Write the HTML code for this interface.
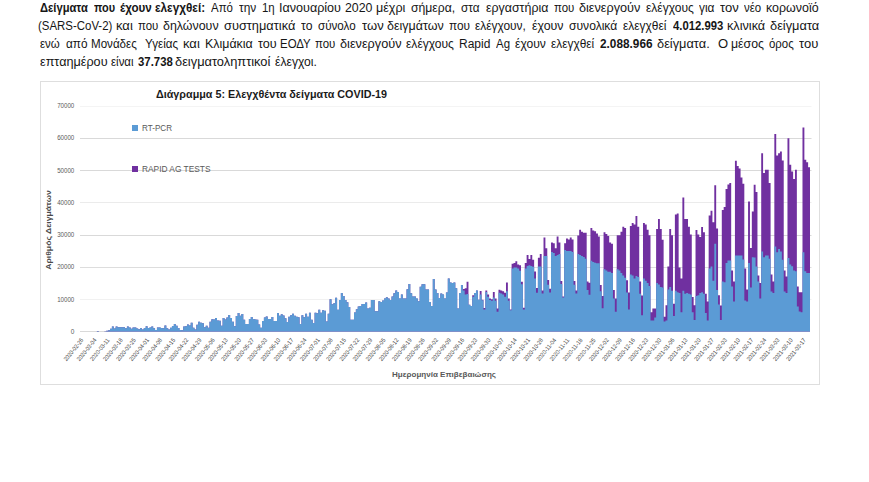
<!DOCTYPE html>
<html><head><meta charset="utf-8">
<style>
html,body{margin:0;padding:0;background:#fff;}
body{width:869px;height:482px;overflow:hidden;position:relative;font-family:"Liberation Sans",sans-serif;}
.w{position:absolute;font-size:12.3px;line-height:14px;color:#161616;white-space:nowrap;transform-origin:0 0;}
.w.b{font-weight:bold;}
</style></head><body>
<svg width="869" height="482" viewBox="0 0 869 482" style="position:absolute;left:0;top:0">
<rect x="40.5" y="81.5" width="779" height="303" fill="#fff" stroke="#dedede" stroke-width="1"/>
<line x1="80" y1="106.5" x2="811.5" y2="106.5" stroke="#f4f4f4" stroke-width="1"/><line x1="80" y1="138.5" x2="811.5" y2="138.5" stroke="#d9d9d9" stroke-width="1"/><line x1="80" y1="170.5" x2="811.5" y2="170.5" stroke="#d9d9d9" stroke-width="1"/><line x1="80" y1="202.5" x2="811.5" y2="202.5" stroke="#ebebeb" stroke-width="1"/><line x1="80" y1="235.5" x2="811.5" y2="235.5" stroke="#d9d9d9" stroke-width="1"/><line x1="80" y1="267.5" x2="811.5" y2="267.5" stroke="#dddddd" stroke-width="1"/><line x1="80" y1="299.5" x2="811.5" y2="299.5" stroke="#f1f1f1" stroke-width="1"/>
<line x1="80" y1="331.5" x2="810" y2="331.5" stroke="#d9d9d9" stroke-width="1"/>
<path d="M80.00 331.60 L80.00 331.60 L81.88 331.60 L81.88 331.60 L83.75 331.60 L83.75 331.60 L85.63 331.60 L85.63 331.60 L87.51 331.60 L87.51 331.60 L89.38 331.60 L89.38 331.60 L91.26 331.60 L91.26 331.60 L93.14 331.60 L93.14 331.60 L95.01 331.60 L95.01 331.60 L96.89 331.60 L96.89 331.00 L98.77 331.00 L98.77 331.60 L100.64 331.60 L100.64 331.60 L102.52 331.60 L102.52 331.60 L104.40 331.60 L104.40 331.20 L106.27 331.20 L106.27 330.70 L108.15 330.70 L108.15 330.20 L110.03 330.20 L110.03 328.80 L111.90 328.80 L111.90 326.60 L113.78 326.60 L113.78 328.40 L115.66 328.40 L115.66 326.40 L117.53 326.40 L117.53 327.30 L119.41 327.30 L119.41 327.30 L121.29 327.30 L121.29 327.30 L123.16 327.30 L123.16 327.30 L125.04 327.30 L125.04 328.20 L126.92 328.20 L126.92 326.40 L128.79 326.40 L128.79 327.60 L130.67 327.60 L130.67 328.70 L132.54 328.70 L132.54 327.60 L134.42 327.60 L134.42 327.60 L136.30 327.60 L136.30 328.40 L138.17 328.40 L138.17 329.30 L140.05 329.30 L140.05 328.30 L141.93 328.30 L141.93 329.50 L143.80 329.50 L143.80 328.00 L145.68 328.00 L145.68 326.30 L147.56 326.30 L147.56 328.00 L149.43 328.00 L149.43 327.40 L151.31 327.40 L151.31 326.60 L153.19 326.60 L153.19 328.30 L155.06 328.30 L155.06 330.00 L156.94 330.00 L156.94 327.40 L158.82 327.40 L158.82 327.40 L160.69 327.40 L160.69 328.00 L162.57 328.00 L162.57 328.30 L164.45 328.30 L164.45 325.40 L166.32 325.40 L166.32 328.30 L168.20 328.30 L168.20 329.50 L170.08 329.50 L170.08 327.70 L171.95 327.70 L171.95 326.00 L173.83 326.00 L173.83 323.90 L175.71 323.90 L175.71 325.70 L177.58 325.70 L177.58 328.00 L179.46 328.00 L179.46 330.00 L181.34 330.00 L181.34 330.30 L183.21 330.30 L183.21 326.60 L185.09 326.60 L185.09 326.30 L186.97 326.30 L186.97 324.60 L188.84 324.60 L188.84 325.50 L190.72 325.50 L190.72 322.80 L192.60 322.80 L192.60 327.80 L194.47 327.80 L194.47 329.50 L196.35 329.50 L196.35 324.80 L198.23 324.80 L198.23 321.80 L200.10 321.80 L200.10 322.80 L201.98 322.80 L201.98 323.20 L203.86 323.20 L203.86 327.20 L205.73 327.20 L205.73 325.80 L207.61 325.80 L207.61 327.80 L209.49 327.80 L209.49 321.80 L211.36 321.80 L211.36 319.20 L213.24 319.20 L213.24 319.50 L215.12 319.50 L215.12 317.90 L216.99 317.90 L216.99 320.50 L218.87 320.50 L218.87 320.80 L220.75 320.80 L220.75 325.80 L222.62 325.80 L222.62 317.90 L224.50 317.90 L224.50 319.50 L226.38 319.50 L226.38 317.50 L228.25 317.50 L228.25 314.90 L230.13 314.90 L230.13 317.90 L232.01 317.90 L232.01 321.80 L233.88 321.80 L233.88 326.20 L235.76 326.20 L235.76 315.90 L237.63 315.90 L237.63 313.00 L239.51 313.00 L239.51 315.80 L241.39 315.80 L241.39 313.90 L243.26 313.90 L243.26 319.80 L245.14 319.80 L245.14 324.10 L247.02 324.10 L247.02 324.10 L248.89 324.10 L248.89 319.00 L250.77 319.00 L250.77 317.00 L252.65 317.00 L252.65 319.00 L254.52 319.00 L254.52 319.40 L256.40 319.40 L256.40 319.80 L258.28 319.80 L258.28 324.50 L260.15 324.50 L260.15 327.70 L262.03 327.70 L262.03 321.00 L263.91 321.00 L263.91 317.40 L265.78 317.40 L265.78 316.60 L267.66 316.60 L267.66 319.00 L269.54 319.00 L269.54 319.00 L271.41 319.00 L271.41 317.00 L273.29 317.00 L273.29 321.00 L275.17 321.00 L275.17 321.00 L277.04 321.00 L277.04 313.10 L278.92 313.10 L278.92 315.80 L280.80 315.80 L280.80 314.20 L282.67 314.20 L282.67 315.40 L284.55 315.40 L284.55 318.20 L286.43 318.20 L286.43 322.10 L288.30 322.10 L288.30 316.70 L290.18 316.70 L290.18 315.20 L292.06 315.20 L292.06 313.70 L293.93 313.70 L293.93 315.70 L295.81 315.70 L295.81 316.70 L297.69 316.70 L297.69 317.20 L299.56 317.20 L299.56 324.10 L301.44 324.10 L301.44 315.20 L303.32 315.20 L303.32 317.20 L305.19 317.20 L305.19 313.70 L307.07 313.70 L307.07 316.70 L308.95 316.70 L308.95 312.70 L310.82 312.70 L310.82 319.70 L312.70 319.70 L312.70 323.10 L314.58 323.10 L314.58 312.70 L316.45 312.70 L316.45 313.20 L318.33 313.20 L318.33 309.70 L320.21 309.70 L320.21 312.70 L322.08 312.70 L322.08 310.20 L323.96 310.20 L323.96 310.70 L325.84 310.70 L325.84 321.60 L327.71 321.60 L327.71 313.70 L329.59 313.70 L329.59 299.20 L331.47 299.20 L331.47 304.20 L333.34 304.20 L333.34 303.20 L335.22 303.20 L335.22 297.70 L337.10 297.70 L337.10 309.70 L338.97 309.70 L338.97 300.00 L340.85 300.00 L340.85 293.00 L342.72 293.00 L342.72 295.90 L344.60 295.90 L344.60 300.00 L346.48 300.00 L346.48 302.30 L348.35 302.30 L348.35 307.00 L350.23 307.00 L350.23 319.80 L352.11 319.80 L352.11 319.80 L353.98 319.80 L353.98 312.50 L355.86 312.50 L355.86 309.20 L357.74 309.20 L357.74 306.50 L359.61 306.50 L359.61 305.90 L361.49 305.90 L361.49 303.90 L363.37 303.90 L363.37 303.90 L365.24 303.90 L365.24 302.60 L367.12 302.60 L367.12 308.50 L369.00 308.50 L369.00 307.80 L370.87 307.80 L370.87 299.90 L372.75 299.90 L372.75 299.90 L374.63 299.90 L374.63 311.20 L376.50 311.20 L376.50 311.20 L378.38 311.20 L378.38 301.20 L380.26 301.20 L380.26 301.90 L382.13 301.90 L382.13 300.60 L384.01 300.60 L384.01 298.60 L385.89 298.60 L385.89 297.20 L387.76 297.20 L387.76 298.60 L389.64 298.60 L389.64 299.90 L391.52 299.90 L391.52 296.60 L393.39 296.60 L393.39 293.20 L395.27 293.20 L395.27 290.60 L397.15 290.60 L397.15 291.90 L399.02 291.90 L399.02 298.60 L400.90 298.60 L400.90 294.60 L402.78 294.60 L402.78 298.60 L404.65 298.60 L404.65 298.60 L406.53 298.60 L406.53 289.30 L408.41 289.30 L408.41 283.90 L410.28 283.90 L410.28 293.20 L412.16 293.20 L412.16 296.60 L414.04 296.60 L414.04 296.60 L415.91 296.60 L415.91 298.60 L417.79 298.60 L417.79 301.20 L419.67 301.20 L419.67 286.80 L421.54 286.80 L421.54 284.20 L423.42 284.20 L423.42 284.20 L425.30 284.20 L425.30 289.50 L427.17 289.50 L427.17 289.50 L429.05 289.50 L429.05 302.10 L430.93 302.10 L430.93 306.10 L432.80 306.10 L432.80 278.90 L434.68 278.90 L434.68 289.50 L436.56 289.50 L436.56 293.10 L438.43 293.10 L438.43 298.10 L440.31 298.10 L440.31 293.40 L442.19 293.40 L442.19 294.50 L444.06 294.50 L444.06 298.60 L445.94 298.60 L445.94 292.40 L447.81 292.40 L447.81 278.40 L449.69 278.40 L449.69 282.50 L451.57 282.50 L451.57 283.00 L453.44 283.00 L453.44 282.50 L455.32 282.50 L455.32 288.20 L457.20 288.20 L457.20 308.50 L459.07 308.50 L459.07 292.90 L460.95 292.90 L460.95 285.10 L462.83 285.10 L462.83 288.90 L464.70 288.90 L464.70 288.20 L466.58 288.20 L466.58 281.70 L468.46 281.70 L468.46 304.80 L470.33 304.80 L470.33 305.90 L472.21 305.90 L472.21 295.20 L474.09 295.20 L474.09 292.90 L475.96 292.90 L475.96 290.40 L477.84 290.40 L477.84 299.70 L479.72 299.70 L479.72 290.90 L481.59 290.90 L481.59 299.70 L483.47 299.70 L483.47 308.00 L485.35 308.00 L485.35 290.50 L487.22 290.50 L487.22 294.40 L489.10 294.40 L489.10 298.40 L490.98 298.40 L490.98 299.20 L492.85 299.20 L492.85 292.10 L494.73 292.10 L494.73 298.40 L496.61 298.40 L496.61 308.60 L498.48 308.60 L498.48 289.70 L500.36 289.70 L500.36 290.50 L502.24 290.50 L502.24 291.30 L504.11 291.30 L504.11 292.80 L505.99 292.80 L505.99 282.60 L507.87 282.60 L507.87 298.40 L509.74 298.40 L509.74 309.40 L511.62 309.40 L511.62 263.70 L513.50 263.70 L513.50 262.90 L515.37 262.90 L515.37 261.30 L517.25 261.30 L517.25 264.50 L519.13 264.50 L519.13 265.20 L521.00 265.20 L521.00 281.80 L522.88 281.80 L522.88 307.80 L524.76 307.80 L524.76 262.90 L526.63 262.90 L526.63 255.00 L528.51 255.00 L528.51 258.90 L530.39 258.90 L530.39 255.00 L532.26 255.00 L532.26 259.70 L534.14 259.70 L534.14 271.60 L536.02 271.60 L536.02 287.90 L537.89 287.90 L537.89 257.80 L539.77 257.80 L539.77 254.00 L541.65 254.00 L541.65 290.60 L543.52 290.60 L543.52 237.60 L545.40 237.60 L545.40 248.20 L547.28 248.20 L547.28 280.00 L549.15 280.00 L549.15 288.70 L551.03 288.70 L551.03 242.40 L552.90 242.40 L552.90 243.30 L554.78 243.30 L554.78 248.20 L556.66 248.20 L556.66 236.60 L558.53 236.60 L558.53 242.40 L560.41 242.40 L560.41 281.00 L562.29 281.00 L562.29 296.40 L564.16 296.40 L564.16 243.30 L566.04 243.30 L566.04 238.50 L567.92 238.50 L567.92 239.50 L569.79 239.50 L569.79 237.60 L571.67 237.60 L571.67 239.50 L573.55 239.50 L573.55 281.00 L575.42 281.00 L575.42 290.60 L577.30 290.60 L577.30 235.60 L579.18 235.60 L579.18 229.80 L581.05 229.80 L581.05 231.80 L582.93 231.80 L582.93 232.70 L584.81 232.70 L584.81 232.70 L586.68 232.70 L586.68 281.50 L588.56 281.50 L588.56 282.70 L590.44 282.70 L590.44 228.10 L592.31 228.10 L592.31 230.50 L594.19 230.50 L594.19 231.20 L596.07 231.20 L596.07 233.60 L597.94 233.60 L597.94 236.60 L599.82 236.60 L599.82 285.10 L601.70 285.10 L601.70 296.00 L603.57 296.00 L603.57 232.20 L605.45 232.20 L605.45 234.10 L607.33 234.10 L607.33 236.10 L609.20 236.10 L609.20 242.60 L611.08 242.60 L611.08 243.80 L612.96 243.80 L612.96 290.00 L614.83 290.00 L614.83 298.40 L616.71 298.40 L616.71 235.30 L618.59 235.30 L618.59 235.30 L620.46 235.30 L620.46 231.70 L622.34 231.70 L622.34 226.80 L624.22 226.80 L624.22 228.10 L626.09 228.10 L626.09 280.30 L627.97 280.30 L627.97 292.40 L629.85 292.40 L629.85 225.90 L631.72 225.90 L631.72 222.90 L633.60 222.90 L633.60 224.40 L635.48 224.40 L635.48 216.00 L637.35 216.00 L637.35 226.70 L639.23 226.70 L639.23 281.60 L641.11 281.60 L641.11 295.60 L642.98 295.60 L642.98 222.90 L644.86 222.90 L644.86 224.40 L646.74 224.40 L646.74 229.80 L648.61 229.80 L648.61 235.20 L650.49 235.20 L650.49 312.20 L652.37 312.20 L652.37 308.60 L654.24 308.60 L654.24 308.60 L656.12 308.60 L656.12 229.00 L657.99 229.00 L657.99 219.00 L659.87 219.00 L659.87 229.00 L661.75 229.00 L661.75 239.80 L663.62 239.80 L663.62 316.80 L665.50 316.80 L665.50 305.30 L667.38 305.30 L667.38 266.60 L669.25 266.60 L669.25 229.00 L671.13 229.00 L671.13 235.20 L673.01 235.20 L673.01 303.80 L674.88 303.80 L674.88 214.40 L676.76 214.40 L676.76 213.60 L678.64 213.60 L678.64 267.60 L680.51 267.60 L680.51 278.40 L682.39 278.40 L682.39 197.50 L684.27 197.50 L684.27 219.00 L686.14 219.00 L686.14 219.10 L688.02 219.10 L688.02 226.80 L689.90 226.80 L689.90 234.60 L691.77 234.60 L691.77 296.90 L693.65 296.90 L693.65 305.30 L695.53 305.30 L695.53 230.00 L697.40 230.00 L697.40 234.60 L699.28 234.60 L699.28 236.90 L701.16 236.90 L701.16 226.90 L703.03 226.90 L703.03 232.30 L704.91 232.30 L704.91 293.80 L706.79 293.80 L706.79 301.50 L708.66 301.50 L708.66 215.40 L710.54 215.40 L710.54 210.80 L712.42 210.80 L712.42 222.30 L714.29 222.30 L714.29 185.30 L716.17 185.30 L716.17 228.40 L718.05 228.40 L718.05 295.30 L719.92 295.30 L719.92 305.60 L721.80 305.60 L721.80 210.00 L723.68 210.00 L723.68 206.90 L725.55 206.90 L725.55 189.10 L727.43 189.10 L727.43 184.60 L729.31 184.60 L729.31 183.00 L731.18 183.00 L731.18 270.60 L733.06 270.60 L733.06 281.60 L734.94 281.60 L734.94 160.70 L736.81 160.70 L736.81 166.10 L738.69 166.10 L738.69 168.40 L740.57 168.40 L740.57 177.60 L742.44 177.60 L742.44 183.80 L744.32 183.80 L744.32 268.60 L746.20 268.60 L746.20 289.60 L748.07 289.60 L748.07 201.60 L749.95 201.60 L749.95 248.10 L751.83 248.10 L751.83 211.60 L753.70 211.60 L753.70 184.70 L755.58 184.70 L755.58 192.10 L757.46 192.10 L757.46 275.60 L759.33 275.60 L759.33 283.00 L761.21 283.00 L761.21 153.20 L763.08 153.20 L763.08 173.10 L764.96 173.10 L764.96 169.80 L766.84 169.80 L766.84 169.80 L768.71 169.80 L768.71 183.00 L770.59 183.00 L770.59 274.60 L772.47 274.60 L772.47 281.60 L774.34 281.60 L774.34 134.10 L776.22 134.10 L776.22 155.60 L778.10 155.60 L778.10 153.20 L779.97 153.20 L779.97 151.50 L781.85 151.50 L781.85 160.60 L783.73 160.60 L783.73 270.60 L785.60 270.60 L785.60 276.60 L787.48 276.60 L787.48 138.20 L789.36 138.20 L789.36 164.80 L791.23 164.80 L791.23 171.40 L793.11 171.40 L793.11 178.90 L794.99 178.90 L794.99 169.80 L796.86 169.80 L796.86 286.60 L798.74 286.60 L798.74 292.30 L800.62 292.30 L800.62 292.30 L802.49 292.30 L802.49 127.50 L804.37 127.50 L804.37 159.80 L806.25 159.80 L806.25 162.30 L808.12 162.30 L808.12 167.30 L810.00 167.30 L810.00 331.60 Z" fill="#7030a0"/>
<path d="M80.00 331.60 L80.00 331.60 L81.88 331.60 L81.88 331.60 L83.75 331.60 L83.75 331.60 L85.63 331.60 L85.63 331.60 L87.51 331.60 L87.51 331.60 L89.38 331.60 L89.38 331.60 L91.26 331.60 L91.26 331.60 L93.14 331.60 L93.14 331.60 L95.01 331.60 L95.01 331.60 L96.89 331.60 L96.89 331.00 L98.77 331.00 L98.77 331.60 L100.64 331.60 L100.64 331.60 L102.52 331.60 L102.52 331.60 L104.40 331.60 L104.40 331.20 L106.27 331.20 L106.27 330.70 L108.15 330.70 L108.15 330.20 L110.03 330.20 L110.03 328.80 L111.90 328.80 L111.90 326.60 L113.78 326.60 L113.78 328.40 L115.66 328.40 L115.66 326.40 L117.53 326.40 L117.53 327.30 L119.41 327.30 L119.41 327.30 L121.29 327.30 L121.29 327.30 L123.16 327.30 L123.16 327.30 L125.04 327.30 L125.04 328.20 L126.92 328.20 L126.92 326.40 L128.79 326.40 L128.79 327.60 L130.67 327.60 L130.67 328.70 L132.54 328.70 L132.54 327.60 L134.42 327.60 L134.42 327.60 L136.30 327.60 L136.30 328.40 L138.17 328.40 L138.17 329.30 L140.05 329.30 L140.05 328.30 L141.93 328.30 L141.93 329.50 L143.80 329.50 L143.80 328.00 L145.68 328.00 L145.68 326.30 L147.56 326.30 L147.56 328.00 L149.43 328.00 L149.43 327.40 L151.31 327.40 L151.31 326.60 L153.19 326.60 L153.19 328.30 L155.06 328.30 L155.06 330.00 L156.94 330.00 L156.94 327.40 L158.82 327.40 L158.82 327.40 L160.69 327.40 L160.69 328.00 L162.57 328.00 L162.57 328.30 L164.45 328.30 L164.45 325.40 L166.32 325.40 L166.32 328.30 L168.20 328.30 L168.20 329.50 L170.08 329.50 L170.08 327.70 L171.95 327.70 L171.95 326.00 L173.83 326.00 L173.83 323.90 L175.71 323.90 L175.71 325.70 L177.58 325.70 L177.58 328.00 L179.46 328.00 L179.46 330.00 L181.34 330.00 L181.34 330.30 L183.21 330.30 L183.21 326.60 L185.09 326.60 L185.09 326.30 L186.97 326.30 L186.97 324.60 L188.84 324.60 L188.84 325.50 L190.72 325.50 L190.72 322.80 L192.60 322.80 L192.60 327.80 L194.47 327.80 L194.47 329.50 L196.35 329.50 L196.35 324.80 L198.23 324.80 L198.23 321.80 L200.10 321.80 L200.10 322.80 L201.98 322.80 L201.98 323.20 L203.86 323.20 L203.86 327.20 L205.73 327.20 L205.73 325.80 L207.61 325.80 L207.61 327.80 L209.49 327.80 L209.49 321.80 L211.36 321.80 L211.36 319.20 L213.24 319.20 L213.24 319.50 L215.12 319.50 L215.12 317.90 L216.99 317.90 L216.99 320.50 L218.87 320.50 L218.87 320.80 L220.75 320.80 L220.75 325.80 L222.62 325.80 L222.62 317.90 L224.50 317.90 L224.50 319.50 L226.38 319.50 L226.38 317.50 L228.25 317.50 L228.25 314.90 L230.13 314.90 L230.13 317.90 L232.01 317.90 L232.01 321.80 L233.88 321.80 L233.88 326.20 L235.76 326.20 L235.76 315.90 L237.63 315.90 L237.63 313.00 L239.51 313.00 L239.51 315.80 L241.39 315.80 L241.39 313.90 L243.26 313.90 L243.26 319.80 L245.14 319.80 L245.14 324.10 L247.02 324.10 L247.02 324.10 L248.89 324.10 L248.89 319.00 L250.77 319.00 L250.77 317.00 L252.65 317.00 L252.65 319.00 L254.52 319.00 L254.52 319.40 L256.40 319.40 L256.40 319.80 L258.28 319.80 L258.28 324.50 L260.15 324.50 L260.15 327.70 L262.03 327.70 L262.03 321.00 L263.91 321.00 L263.91 317.40 L265.78 317.40 L265.78 316.60 L267.66 316.60 L267.66 319.00 L269.54 319.00 L269.54 319.00 L271.41 319.00 L271.41 317.00 L273.29 317.00 L273.29 321.00 L275.17 321.00 L275.17 321.00 L277.04 321.00 L277.04 313.10 L278.92 313.10 L278.92 315.80 L280.80 315.80 L280.80 314.20 L282.67 314.20 L282.67 315.40 L284.55 315.40 L284.55 318.20 L286.43 318.20 L286.43 322.10 L288.30 322.10 L288.30 316.70 L290.18 316.70 L290.18 315.20 L292.06 315.20 L292.06 313.70 L293.93 313.70 L293.93 315.70 L295.81 315.70 L295.81 316.70 L297.69 316.70 L297.69 317.20 L299.56 317.20 L299.56 324.10 L301.44 324.10 L301.44 315.20 L303.32 315.20 L303.32 317.20 L305.19 317.20 L305.19 313.70 L307.07 313.70 L307.07 316.70 L308.95 316.70 L308.95 312.70 L310.82 312.70 L310.82 319.70 L312.70 319.70 L312.70 323.10 L314.58 323.10 L314.58 312.70 L316.45 312.70 L316.45 313.20 L318.33 313.20 L318.33 309.70 L320.21 309.70 L320.21 312.70 L322.08 312.70 L322.08 310.20 L323.96 310.20 L323.96 310.70 L325.84 310.70 L325.84 321.60 L327.71 321.60 L327.71 313.70 L329.59 313.70 L329.59 299.20 L331.47 299.20 L331.47 304.20 L333.34 304.20 L333.34 303.20 L335.22 303.20 L335.22 297.70 L337.10 297.70 L337.10 309.70 L338.97 309.70 L338.97 300.00 L340.85 300.00 L340.85 293.00 L342.72 293.00 L342.72 295.90 L344.60 295.90 L344.60 300.00 L346.48 300.00 L346.48 302.30 L348.35 302.30 L348.35 307.00 L350.23 307.00 L350.23 319.80 L352.11 319.80 L352.11 319.80 L353.98 319.80 L353.98 312.50 L355.86 312.50 L355.86 309.20 L357.74 309.20 L357.74 306.50 L359.61 306.50 L359.61 305.90 L361.49 305.90 L361.49 303.90 L363.37 303.90 L363.37 303.90 L365.24 303.90 L365.24 302.60 L367.12 302.60 L367.12 308.50 L369.00 308.50 L369.00 307.80 L370.87 307.80 L370.87 299.90 L372.75 299.90 L372.75 299.90 L374.63 299.90 L374.63 311.20 L376.50 311.20 L376.50 311.20 L378.38 311.20 L378.38 301.20 L380.26 301.20 L380.26 301.90 L382.13 301.90 L382.13 300.60 L384.01 300.60 L384.01 298.60 L385.89 298.60 L385.89 297.20 L387.76 297.20 L387.76 298.60 L389.64 298.60 L389.64 299.90 L391.52 299.90 L391.52 296.60 L393.39 296.60 L393.39 293.20 L395.27 293.20 L395.27 290.60 L397.15 290.60 L397.15 291.90 L399.02 291.90 L399.02 298.60 L400.90 298.60 L400.90 294.60 L402.78 294.60 L402.78 298.60 L404.65 298.60 L404.65 298.60 L406.53 298.60 L406.53 289.30 L408.41 289.30 L408.41 283.90 L410.28 283.90 L410.28 293.20 L412.16 293.20 L412.16 296.60 L414.04 296.60 L414.04 296.60 L415.91 296.60 L415.91 298.60 L417.79 298.60 L417.79 301.20 L419.67 301.20 L419.67 286.80 L421.54 286.80 L421.54 284.20 L423.42 284.20 L423.42 284.20 L425.30 284.20 L425.30 289.50 L427.17 289.50 L427.17 289.50 L429.05 289.50 L429.05 302.10 L430.93 302.10 L430.93 306.10 L432.80 306.10 L432.80 278.90 L434.68 278.90 L434.68 289.50 L436.56 289.50 L436.56 293.10 L438.43 293.10 L438.43 298.10 L440.31 298.10 L440.31 293.40 L442.19 293.40 L442.19 294.50 L444.06 294.50 L444.06 298.60 L445.94 298.60 L445.94 292.40 L447.81 292.40 L447.81 278.40 L449.69 278.40 L449.69 282.50 L451.57 282.50 L451.57 283.00 L453.44 283.00 L453.44 282.50 L455.32 282.50 L455.32 288.20 L457.20 288.20 L457.20 308.50 L459.07 308.50 L459.07 292.90 L460.95 292.90 L460.95 285.10 L462.83 285.10 L462.83 290.40 L464.70 290.40 L464.70 294.50 L466.58 294.50 L466.58 294.00 L468.46 294.00 L468.46 304.80 L470.33 304.80 L470.33 305.90 L472.21 305.90 L472.21 296.80 L474.09 296.80 L474.09 292.90 L475.96 292.90 L475.96 290.40 L477.84 290.40 L477.84 299.70 L479.72 299.70 L479.72 294.50 L481.59 294.50 L481.59 300.20 L483.47 300.20 L483.47 309.40 L485.35 309.40 L485.35 292.10 L487.22 292.10 L487.22 296.80 L489.10 296.80 L489.10 299.90 L490.98 299.90 L490.98 300.70 L492.85 300.70 L492.85 297.60 L494.73 297.60 L494.73 300.70 L496.61 300.70 L496.61 311.80 L498.48 311.80 L498.48 292.80 L500.36 292.80 L500.36 293.60 L502.24 293.60 L502.24 294.40 L504.11 294.40 L504.11 296.80 L505.99 296.80 L505.99 291.30 L507.87 291.30 L507.87 300.70 L509.74 300.70 L509.74 310.20 L511.62 310.20 L511.62 268.40 L513.50 268.40 L513.50 267.60 L515.37 267.60 L515.37 267.60 L517.25 267.60 L517.25 268.40 L519.13 268.40 L519.13 270.80 L521.00 270.80 L521.00 284.20 L522.88 284.20 L522.88 309.40 L524.76 309.40 L524.76 268.40 L526.63 268.40 L526.63 266.00 L528.51 266.00 L528.51 265.20 L530.39 265.20 L530.39 266.00 L532.26 266.00 L532.26 266.80 L534.14 266.80 L534.14 278.60 L536.02 278.60 L536.02 292.80 L537.89 292.80 L537.89 266.50 L539.77 266.50 L539.77 266.50 L541.65 266.50 L541.65 293.50 L543.52 293.50 L543.52 255.90 L545.40 255.90 L545.40 255.90 L547.28 255.90 L547.28 284.80 L549.15 284.80 L549.15 292.60 L551.03 292.60 L551.03 252.00 L552.90 252.00 L552.90 253.00 L554.78 253.00 L554.78 255.90 L556.66 255.90 L556.66 254.90 L558.53 254.90 L558.53 254.00 L560.41 254.00 L560.41 283.90 L562.29 283.90 L562.29 297.40 L564.16 297.40 L564.16 250.10 L566.04 250.10 L566.04 251.10 L567.92 251.10 L567.92 251.10 L569.79 251.10 L569.79 251.10 L571.67 251.10 L571.67 252.00 L573.55 252.00 L573.55 284.80 L575.42 284.80 L575.42 293.50 L577.30 293.50 L577.30 254.00 L579.18 254.00 L579.18 254.90 L581.05 254.90 L581.05 255.90 L582.93 255.90 L582.93 256.90 L584.81 256.90 L584.81 258.80 L586.68 258.80 L586.68 290.00 L588.56 290.00 L588.56 294.80 L590.44 294.80 L590.44 260.80 L592.31 260.80 L592.31 262.00 L594.19 262.00 L594.19 262.80 L596.07 262.80 L596.07 263.30 L597.94 263.30 L597.94 263.30 L599.82 263.30 L599.82 291.20 L601.70 291.20 L601.70 308.20 L603.57 308.20 L603.57 269.30 L605.45 269.30 L605.45 270.50 L607.33 270.50 L607.33 271.70 L609.20 271.70 L609.20 271.70 L611.08 271.70 L611.08 273.00 L612.96 273.00 L612.96 298.40 L614.83 298.40 L614.83 311.80 L616.71 311.80 L616.71 269.30 L618.59 269.30 L618.59 270.50 L620.46 270.50 L620.46 273.00 L622.34 273.00 L622.34 275.40 L624.22 275.40 L624.22 277.80 L626.09 277.80 L626.09 292.40 L627.97 292.40 L627.97 309.40 L629.85 309.40 L629.85 274.60 L631.72 274.60 L631.72 275.40 L633.60 275.40 L633.60 278.40 L635.48 278.40 L635.48 276.10 L637.35 276.10 L637.35 276.90 L639.23 276.90 L639.23 293.80 L641.11 293.80 L641.11 315.30 L642.98 315.30 L642.98 278.40 L644.86 278.40 L644.86 280.70 L646.74 280.70 L646.74 283.00 L648.61 283.00 L648.61 286.10 L650.49 286.10 L650.49 320.60 L652.37 320.60 L652.37 320.60 L654.24 320.60 L654.24 317.60 L656.12 317.60 L656.12 283.00 L657.99 283.00 L657.99 284.60 L659.87 284.60 L659.87 286.90 L661.75 286.90 L661.75 287.60 L663.62 287.60 L663.62 321.40 L665.50 321.40 L665.50 320.60 L667.38 320.60 L667.38 289.60 L669.25 289.60 L669.25 286.90 L671.13 286.90 L671.13 290.70 L673.01 290.70 L673.01 316.10 L674.88 316.10 L674.88 290.70 L676.76 290.70 L676.76 292.30 L678.64 292.30 L678.64 293.00 L680.51 293.00 L680.51 312.20 L682.39 312.20 L682.39 290.70 L684.27 290.70 L684.27 293.80 L686.14 293.80 L686.14 293.00 L688.02 293.00 L688.02 293.80 L689.90 293.80 L689.90 294.60 L691.77 294.60 L691.77 312.20 L693.65 312.20 L693.65 319.90 L695.53 319.90 L695.53 296.10 L697.40 296.10 L697.40 295.30 L699.28 295.30 L699.28 293.00 L701.16 293.00 L701.16 292.30 L703.03 292.30 L703.03 293.80 L704.91 293.80 L704.91 313.00 L706.79 313.00 L706.79 320.60 L708.66 320.60 L708.66 268.60 L710.54 268.60 L710.54 266.60 L712.42 266.60 L712.42 280.70 L714.29 280.70 L714.29 243.80 L716.17 243.80 L716.17 290.00 L718.05 290.00 L718.05 304.60 L719.92 304.60 L719.92 319.90 L721.80 319.90 L721.80 281.60 L723.68 281.60 L723.68 282.30 L725.55 282.30 L725.55 263.10 L727.43 263.10 L727.43 260.60 L729.31 260.60 L729.31 260.60 L731.18 260.60 L731.18 286.60 L733.06 286.60 L733.06 301.60 L734.94 301.60 L734.94 255.60 L736.81 255.60 L736.81 255.60 L738.69 255.60 L738.69 255.60 L740.57 255.60 L740.57 255.60 L742.44 255.60 L742.44 259.60 L744.32 259.60 L744.32 300.60 L746.20 300.60 L746.20 301.60 L748.07 301.60 L748.07 263.00 L749.95 263.00 L749.95 287.60 L751.83 287.60 L751.83 257.20 L753.70 257.20 L753.70 257.60 L755.58 257.60 L755.58 266.60 L757.46 266.60 L757.46 281.60 L759.33 281.60 L759.33 298.60 L761.21 298.60 L761.21 251.40 L763.08 251.40 L763.08 257.20 L764.96 257.20 L764.96 255.50 L766.84 255.50 L766.84 255.50 L768.71 255.50 L768.71 258.80 L770.59 258.80 L770.59 291.60 L772.47 291.60 L772.47 293.00 L774.34 293.00 L774.34 246.40 L776.22 246.40 L776.22 252.20 L778.10 252.20 L778.10 248.90 L779.97 248.90 L779.97 251.40 L781.85 251.40 L781.85 259.70 L783.73 259.70 L783.73 291.60 L785.60 291.60 L785.60 293.00 L787.48 293.00 L787.48 258.00 L789.36 258.00 L789.36 264.60 L791.23 264.60 L791.23 266.30 L793.11 266.30 L793.11 270.50 L794.99 270.50 L794.99 271.30 L796.86 271.30 L796.86 306.60 L798.74 306.60 L798.74 311.60 L800.62 311.60 L800.62 312.20 L802.49 312.20 L802.49 252.20 L804.37 252.20 L804.37 271.30 L806.25 271.30 L806.25 272.90 L808.12 272.90 L808.12 272.90 L810.00 272.90 L810.00 331.60 Z" fill="#5b9bd5"/>
<g font-family="Liberation Sans, sans-serif" font-size="7.2" fill="#595959"><text x="74.3" y="334.00" text-anchor="end" textLength="3.6" lengthAdjust="spacingAndGlyphs">0</text><text x="74.3" y="301.70" text-anchor="end" textLength="17.1" lengthAdjust="spacingAndGlyphs">10000</text><text x="74.3" y="269.40" text-anchor="end" textLength="17.1" lengthAdjust="spacingAndGlyphs">20000</text><text x="74.3" y="237.10" text-anchor="end" textLength="17.1" lengthAdjust="spacingAndGlyphs">30000</text><text x="74.3" y="204.80" text-anchor="end" textLength="17.1" lengthAdjust="spacingAndGlyphs">40000</text><text x="74.3" y="172.50" text-anchor="end" textLength="17.1" lengthAdjust="spacingAndGlyphs">50000</text><text x="74.3" y="140.20" text-anchor="end" textLength="17.1" lengthAdjust="spacingAndGlyphs">60000</text><text x="74.3" y="107.90" text-anchor="end" textLength="17.1" lengthAdjust="spacingAndGlyphs">70000</text></g>
<g font-family="Liberation Sans, sans-serif" font-size="6.1" fill="#444444"><text transform="translate(83.64 340.3) rotate(-51)" text-anchor="end" textLength="27.4" lengthAdjust="spacingAndGlyphs">2020-02-26</text><text transform="translate(96.77 340.3) rotate(-51)" text-anchor="end" textLength="27.4" lengthAdjust="spacingAndGlyphs">2020-03-04</text><text transform="translate(109.91 340.3) rotate(-51)" text-anchor="end" textLength="27.4" lengthAdjust="spacingAndGlyphs">2020-03-11</text><text transform="translate(123.05 340.3) rotate(-51)" text-anchor="end" textLength="27.4" lengthAdjust="spacingAndGlyphs">2020-03-18</text><text transform="translate(136.18 340.3) rotate(-51)" text-anchor="end" textLength="27.4" lengthAdjust="spacingAndGlyphs">2020-03-25</text><text transform="translate(149.32 340.3) rotate(-51)" text-anchor="end" textLength="27.4" lengthAdjust="spacingAndGlyphs">2020-04-01</text><text transform="translate(162.46 340.3) rotate(-51)" text-anchor="end" textLength="27.4" lengthAdjust="spacingAndGlyphs">2020-04-08</text><text transform="translate(175.59 340.3) rotate(-51)" text-anchor="end" textLength="27.4" lengthAdjust="spacingAndGlyphs">2020-04-15</text><text transform="translate(188.73 340.3) rotate(-51)" text-anchor="end" textLength="27.4" lengthAdjust="spacingAndGlyphs">2020-04-22</text><text transform="translate(201.86 340.3) rotate(-51)" text-anchor="end" textLength="27.4" lengthAdjust="spacingAndGlyphs">2020-04-29</text><text transform="translate(215.00 340.3) rotate(-51)" text-anchor="end" textLength="27.4" lengthAdjust="spacingAndGlyphs">2020-05-06</text><text transform="translate(228.14 340.3) rotate(-51)" text-anchor="end" textLength="27.4" lengthAdjust="spacingAndGlyphs">2020-05-13</text><text transform="translate(241.27 340.3) rotate(-51)" text-anchor="end" textLength="27.4" lengthAdjust="spacingAndGlyphs">2020-05-20</text><text transform="translate(254.41 340.3) rotate(-51)" text-anchor="end" textLength="27.4" lengthAdjust="spacingAndGlyphs">2020-05-27</text><text transform="translate(267.55 340.3) rotate(-51)" text-anchor="end" textLength="27.4" lengthAdjust="spacingAndGlyphs">2020-06-03</text><text transform="translate(280.68 340.3) rotate(-51)" text-anchor="end" textLength="27.4" lengthAdjust="spacingAndGlyphs">2020-06-10</text><text transform="translate(293.82 340.3) rotate(-51)" text-anchor="end" textLength="27.4" lengthAdjust="spacingAndGlyphs">2020-06-17</text><text transform="translate(306.95 340.3) rotate(-51)" text-anchor="end" textLength="27.4" lengthAdjust="spacingAndGlyphs">2020-06-24</text><text transform="translate(320.09 340.3) rotate(-51)" text-anchor="end" textLength="27.4" lengthAdjust="spacingAndGlyphs">2020-07-01</text><text transform="translate(333.23 340.3) rotate(-51)" text-anchor="end" textLength="27.4" lengthAdjust="spacingAndGlyphs">2020-07-08</text><text transform="translate(346.36 340.3) rotate(-51)" text-anchor="end" textLength="27.4" lengthAdjust="spacingAndGlyphs">2020-07-15</text><text transform="translate(359.50 340.3) rotate(-51)" text-anchor="end" textLength="27.4" lengthAdjust="spacingAndGlyphs">2020-07-22</text><text transform="translate(372.64 340.3) rotate(-51)" text-anchor="end" textLength="27.4" lengthAdjust="spacingAndGlyphs">2020-07-29</text><text transform="translate(385.77 340.3) rotate(-51)" text-anchor="end" textLength="27.4" lengthAdjust="spacingAndGlyphs">2020-08-05</text><text transform="translate(398.91 340.3) rotate(-51)" text-anchor="end" textLength="27.4" lengthAdjust="spacingAndGlyphs">2020-08-12</text><text transform="translate(412.04 340.3) rotate(-51)" text-anchor="end" textLength="27.4" lengthAdjust="spacingAndGlyphs">2020-08-19</text><text transform="translate(425.18 340.3) rotate(-51)" text-anchor="end" textLength="27.4" lengthAdjust="spacingAndGlyphs">2020-08-26</text><text transform="translate(438.32 340.3) rotate(-51)" text-anchor="end" textLength="27.4" lengthAdjust="spacingAndGlyphs">2020-09-02</text><text transform="translate(451.45 340.3) rotate(-51)" text-anchor="end" textLength="27.4" lengthAdjust="spacingAndGlyphs">2020-09-09</text><text transform="translate(464.59 340.3) rotate(-51)" text-anchor="end" textLength="27.4" lengthAdjust="spacingAndGlyphs">2020-09-16</text><text transform="translate(477.73 340.3) rotate(-51)" text-anchor="end" textLength="27.4" lengthAdjust="spacingAndGlyphs">2020-09-23</text><text transform="translate(490.86 340.3) rotate(-51)" text-anchor="end" textLength="27.4" lengthAdjust="spacingAndGlyphs">2020-09-30</text><text transform="translate(504.00 340.3) rotate(-51)" text-anchor="end" textLength="27.4" lengthAdjust="spacingAndGlyphs">2020-10-07</text><text transform="translate(517.13 340.3) rotate(-51)" text-anchor="end" textLength="27.4" lengthAdjust="spacingAndGlyphs">2020-10-14</text><text transform="translate(530.27 340.3) rotate(-51)" text-anchor="end" textLength="27.4" lengthAdjust="spacingAndGlyphs">2020-10-21</text><text transform="translate(543.41 340.3) rotate(-51)" text-anchor="end" textLength="27.4" lengthAdjust="spacingAndGlyphs">2020-10-28</text><text transform="translate(556.54 340.3) rotate(-51)" text-anchor="end" textLength="27.4" lengthAdjust="spacingAndGlyphs">2020-11-04</text><text transform="translate(569.68 340.3) rotate(-51)" text-anchor="end" textLength="27.4" lengthAdjust="spacingAndGlyphs">2020-11-11</text><text transform="translate(582.82 340.3) rotate(-51)" text-anchor="end" textLength="27.4" lengthAdjust="spacingAndGlyphs">2020-11-18</text><text transform="translate(595.95 340.3) rotate(-51)" text-anchor="end" textLength="27.4" lengthAdjust="spacingAndGlyphs">2020-11-25</text><text transform="translate(609.09 340.3) rotate(-51)" text-anchor="end" textLength="27.4" lengthAdjust="spacingAndGlyphs">2020-12-02</text><text transform="translate(622.22 340.3) rotate(-51)" text-anchor="end" textLength="27.4" lengthAdjust="spacingAndGlyphs">2020-12-09</text><text transform="translate(635.36 340.3) rotate(-51)" text-anchor="end" textLength="27.4" lengthAdjust="spacingAndGlyphs">2020-12-16</text><text transform="translate(648.50 340.3) rotate(-51)" text-anchor="end" textLength="27.4" lengthAdjust="spacingAndGlyphs">2020-12-23</text><text transform="translate(661.63 340.3) rotate(-51)" text-anchor="end" textLength="27.4" lengthAdjust="spacingAndGlyphs">2020-12-30</text><text transform="translate(674.77 340.3) rotate(-51)" text-anchor="end" textLength="27.4" lengthAdjust="spacingAndGlyphs">2021-01-06</text><text transform="translate(687.91 340.3) rotate(-51)" text-anchor="end" textLength="27.4" lengthAdjust="spacingAndGlyphs">2021-01-13</text><text transform="translate(701.04 340.3) rotate(-51)" text-anchor="end" textLength="27.4" lengthAdjust="spacingAndGlyphs">2021-01-20</text><text transform="translate(714.18 340.3) rotate(-51)" text-anchor="end" textLength="27.4" lengthAdjust="spacingAndGlyphs">2021-01-27</text><text transform="translate(727.31 340.3) rotate(-51)" text-anchor="end" textLength="27.4" lengthAdjust="spacingAndGlyphs">2021-02-03</text><text transform="translate(740.45 340.3) rotate(-51)" text-anchor="end" textLength="27.4" lengthAdjust="spacingAndGlyphs">2021-02-10</text><text transform="translate(753.59 340.3) rotate(-51)" text-anchor="end" textLength="27.4" lengthAdjust="spacingAndGlyphs">2021-02-17</text><text transform="translate(766.72 340.3) rotate(-51)" text-anchor="end" textLength="27.4" lengthAdjust="spacingAndGlyphs">2021-02-24</text><text transform="translate(779.86 340.3) rotate(-51)" text-anchor="end" textLength="27.4" lengthAdjust="spacingAndGlyphs">2021-03-03</text><text transform="translate(793.00 340.3) rotate(-51)" text-anchor="end" textLength="27.4" lengthAdjust="spacingAndGlyphs">2021-03-10</text><text transform="translate(806.13 340.3) rotate(-51)" text-anchor="end" textLength="27.4" lengthAdjust="spacingAndGlyphs">2021-03-17</text></g>
<text x="156" y="98" font-family="Liberation Sans, sans-serif" font-size="10.4" font-weight="bold" fill="#1a1a1a" textLength="231" lengthAdjust="spacingAndGlyphs">Διάγραμμα 5: Ελεγχθέντα δείγματα COVID-19</text>
<rect x="132" y="125" width="6" height="6" fill="#5b9bd5"/>
<text x="142" y="131.2" font-family="Liberation Sans, sans-serif" font-size="8.4" fill="#595959" textLength="30" lengthAdjust="spacingAndGlyphs">RT-PCR</text>
<rect x="132" y="166" width="6" height="6" fill="#7030a0"/>
<text x="142" y="171.8" font-family="Liberation Sans, sans-serif" font-size="8.4" fill="#595959" textLength="68.5" lengthAdjust="spacingAndGlyphs">RAPID AG TESTS</text>
<text transform="translate(51 269.8) rotate(-90)" font-family="Liberation Sans, sans-serif" font-size="8" font-weight="bold" fill="#4a4a4a" textLength="79.6" lengthAdjust="spacingAndGlyphs">Αριθμός Δειγμάτων</text>
<text x="392" y="377.2" font-family="Liberation Sans, sans-serif" font-size="7.4" font-weight="bold" fill="#595959" textLength="104" lengthAdjust="spacingAndGlyphs">Ημερομηνία Επιβεβαιώσης</text>
</svg>
<span class="w b" style="left:40.10px;top:0.50px;transform:scaleX(0.909)">Δείγματα</span><span class="w b" style="left:94.06px;top:0.50px;transform:scaleX(0.890)">που</span><span class="w b" style="left:119.60px;top:0.50px;transform:scaleX(0.945)">έχουν</span><span class="w b" style="left:155.10px;top:0.50px;transform:scaleX(0.955)">ελεγχθεί:</span><span class="w" style="left:211.25px;top:0.50px;transform:scaleX(0.930)">Από</span><span class="w" style="left:238.70px;top:0.50px;transform:scaleX(0.967)">την</span><span class="w" style="left:261.84px;top:0.50px;transform:scaleX(0.930)">1η</span><span class="w" style="left:278.58px;top:0.50px;transform:scaleX(1.022)">Ιανουαρίου</span><span class="w" style="left:344.80px;top:0.50px;transform:scaleX(1.004)">2020</span><span class="w" style="left:376.28px;top:0.50px;transform:scaleX(1.022)">μέχρι</span><span class="w" style="left:411.40px;top:0.50px;transform:scaleX(0.991)">σήμερα,</span><span class="w" style="left:460.80px;top:0.50px;transform:scaleX(0.958)">στα</span><span class="w" style="left:485.80px;top:0.50px;transform:scaleX(1.008)">εργαστήρια</span><span class="w" style="left:554.07px;top:0.50px;transform:scaleX(0.930)">που</span><span class="w" style="left:579.27px;top:0.50px;transform:scaleX(1.031)">διενεργούν</span><span class="w" style="left:646.00px;top:0.50px;transform:scaleX(0.978)">ελέγχους</span><span class="w" style="left:699.00px;top:0.50px;transform:scaleX(0.969)">για</span><span class="w" style="left:720.39px;top:0.50px;transform:scaleX(1.060)">τον</span><span class="w" style="left:743.58px;top:0.50px;transform:scaleX(0.930)">νέο</span><span class="w" style="left:765.89px;top:0.50px;transform:scaleX(1.012)">κορωνοϊό</span><span class="w" style="left:37.85px;top:18.60px;transform:scaleX(0.930)">(SARS-CoV-2)</span><span class="w" style="left:115.72px;top:18.60px;transform:scaleX(1.060)">και</span><span class="w" style="left:138.37px;top:18.60px;transform:scaleX(0.930)">που</span><span class="w" style="left:162.79px;top:18.60px;transform:scaleX(1.009)">δηλώνουν</span><span class="w" style="left:224.10px;top:18.60px;transform:scaleX(1.041)">συστηματικά</span><span class="w" style="left:301.40px;top:18.60px;transform:scaleX(0.991)">το</span><span class="w" style="left:318.10px;top:18.60px;transform:scaleX(0.945)">σύνολο</span><span class="w" style="left:362.15px;top:18.60px;transform:scaleX(1.060)">των</span><span class="w" style="left:387.18px;top:18.60px;transform:scaleX(1.016)">δειγμάτων</span><span class="w" style="left:449.20px;top:18.60px;transform:scaleX(0.959)">που</span><span class="w" style="left:475.40px;top:18.60px;transform:scaleX(0.969)">ελέγχουν,</span><span class="w" style="left:531.60px;top:18.60px;transform:scaleX(1.006)">έχουν</span><span class="w" style="left:568.70px;top:18.60px;transform:scaleX(0.984)">συνολικά</span><span class="w" style="left:623.40px;top:18.60px;transform:scaleX(0.969)">ελεγχθεί</span><span class="w b" style="left:672.80px;top:18.60px;transform:scaleX(0.920)">4.012.993</span><span class="w" style="left:727.27px;top:18.60px;transform:scaleX(1.031)">κλινικά</span><span class="w" style="left:770.16px;top:18.60px;transform:scaleX(1.043)">δείγματα</span><span class="w" style="left:40.40px;top:37.10px;transform:scaleX(0.933)">ενώ</span><span class="w" style="left:65.80px;top:37.10px;transform:scaleX(0.959)">από</span><span class="w" style="left:91.06px;top:37.10px;transform:scaleX(0.943)">Μονάδες</span><span class="w" style="left:145.20px;top:37.10px;transform:scaleX(0.946)">Υγείας</span><span class="w" style="left:183.02px;top:37.10px;transform:scaleX(1.060)">και</span><span class="w" style="left:204.99px;top:37.10px;transform:scaleX(1.011)">Κλιμάκια</span><span class="w" style="left:258.10px;top:37.10px;transform:scaleX(1.022)">του</span><span class="w" style="left:279.94px;top:37.10px;transform:scaleX(0.930)">ΕΟΔΥ</span><span class="w" style="left:315.42px;top:37.10px;transform:scaleX(0.930)">που</span><span class="w" style="left:340.27px;top:37.10px;transform:scaleX(1.033)">διενεργούν</span><span class="w" style="left:406.30px;top:37.10px;transform:scaleX(0.980)">ελέγχους</span><span class="w" style="left:459.12px;top:37.10px;transform:scaleX(0.977)">Rapid</span><span class="w" style="left:495.57px;top:37.10px;transform:scaleX(0.930)">Ag</span><span class="w" style="left:514.90px;top:37.10px;transform:scaleX(0.984)">έχουν</span><span class="w" style="left:551.20px;top:37.10px;transform:scaleX(0.964)">ελεγχθεί</span><span class="w b" style="left:600.43px;top:37.10px;transform:scaleX(0.960)">2.088.966</span><span class="w" style="left:657.26px;top:37.10px;transform:scaleX(1.041)">δείγματα.</span><span class="w" style="left:717.95px;top:37.10px;transform:scaleX(1.060)">Ο</span><span class="w" style="left:731.00px;top:37.10px;transform:scaleX(1.000)">μέσος</span><span class="w" style="left:768.91px;top:37.10px;transform:scaleX(0.930)">όρος</span><span class="w" style="left:799.46px;top:37.10px;transform:scaleX(1.060)">του</span><span class="w" style="left:40.40px;top:55.00px;transform:scaleX(1.028)">επταημέρου</span><span class="w" style="left:111.34px;top:55.00px;transform:scaleX(0.930)">είναι</span><span class="w b" style="left:137.57px;top:55.00px;transform:scaleX(0.925)">37.738</span><span class="w" style="left:175.16px;top:55.00px;transform:scaleX(1.044)">δειγματοληπτικοί</span><span class="w" style="left:274.50px;top:55.00px;transform:scaleX(0.988)">έλεγχοι.</span>
</body></html>
